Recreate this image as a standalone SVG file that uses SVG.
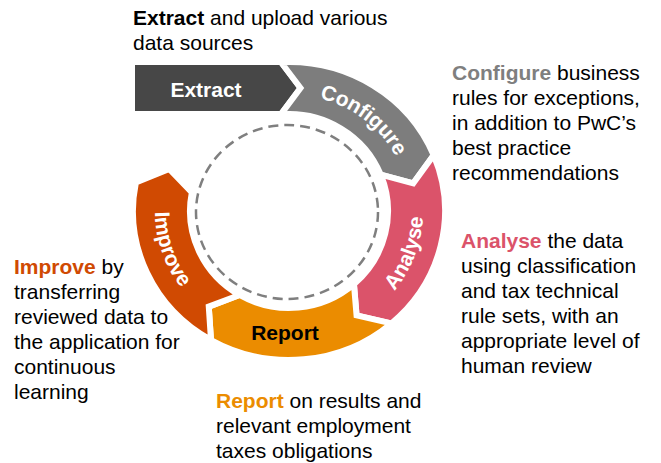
<svg xmlns="http://www.w3.org/2000/svg" width="661" height="463" viewBox="0 0 661 463">
<style>
.seg{stroke:#ffffff;stroke-width:6;stroke-linejoin:miter}
.lbl{font-family:"Liberation Sans",Arial,sans-serif;font-weight:bold;font-size:21px}
.desc{font-family:"Liberation Sans",Arial,sans-serif;font-size:21px;fill:#000000}
.b{font-weight:bold}
</style>
<defs>
<path id="pConfigure" d="M245.63,102.24 A121,116.5 0 0 1 408.51,229.22"/>
<path id="pAnalyse" d="M312.27,338.53 A134,129.5 0 0 0 391.65,127.76"/>
<path id="pImprove" d="M189.42,124.35 A134,129.5 0 0 0 261.14,337.66"/>
</defs>
<rect width="661" height="463" fill="#ffffff"/>
<g id="connectors">
<ellipse cx="287" cy="212" rx="91" ry="87" fill="none" stroke="#7f7f7f" stroke-width="2.5" stroke-dasharray="10 6"/>
</g>
<g id="extract">
<polygon class="seg" fill="#474747" points="132,62 281,62 300.5,88 281,114 132,114"/>
<text class="lbl" x="206" y="97" fill="#ffffff" text-anchor="middle">Extract</text>
</g>
<g id="configure">
<path class="seg" fill="#7d7d7d" d="M281,62.2 A156,149 0 0 1 433.64,155.18 L413.24,183.32 L380.79,174.66 A99,97 0 0 0 281,114.3 L300.5,88 Z"/>
<text class="lbl" fill="#ffffff"><textPath href="#pConfigure" startOffset="50%" text-anchor="middle">Configure</textPath></text>
</g>
<g id="analyse">
<path class="seg" fill="#db536a" d="M433.64,155.18 A156,149 0 0 1 391.35,323.45 L356.56,315.3 L353.95,284.21 A99,97 0 0 0 380.79,174.66 L413.24,183.32 Z"/>
<text class="lbl" fill="#ffffff"><textPath href="#pAnalyse" startOffset="50%" text-anchor="middle">Analyse</textPath></text>
</g>
<g id="report">
<path class="seg" fill="#eb8c00" d="M391.35,323.45 A156,149 0 0 1 211,340.03 L208.76,306.58 L239.5,295 A99,97 0 0 0 353.95,284.21 L356.56,315.3 Z"/>
<text class="lbl" x="285" y="340" fill="#000000" text-anchor="middle">Report</text>
</g>
<g id="improve">
<path class="seg" fill="#d04a02" d="M211,340.03 A156,149 0 0 1 135.87,182.57 L169.19,168.93 L191.82,192.49 A99,97 0 0 0 239.5,295 L208.76,306.58 Z"/>
<text class="lbl" fill="#ffffff"><textPath href="#pImprove" startOffset="50%" text-anchor="middle">Improve</textPath></text>
</g>
<g id="desc-extract">
<text class="desc" x="133" y="25"><tspan class="b">Extract</tspan> and upload various</text>
<text class="desc" x="133" y="50">data sources</text>
</g>
<g id="desc-configure">
<text class="desc" x="452" y="80"><tspan class="b" fill="#7f7f7f">Configure</tspan> business</text>
<text class="desc" x="452" y="105">rules for exceptions,</text>
<text class="desc" x="452" y="130">in addition to PwC’s</text>
<text class="desc" x="452" y="155">best practice</text>
<text class="desc" x="452" y="180">recommendations</text>
</g>
<g id="desc-analyse">
<text class="desc" x="461" y="248"><tspan class="b" fill="#db536a">Analyse</tspan> the data</text>
<text class="desc" x="461" y="273">using classification</text>
<text class="desc" x="461" y="298">and tax technical</text>
<text class="desc" x="461" y="323">rule sets, with an</text>
<text class="desc" x="461" y="348">appropriate level of</text>
<text class="desc" x="461" y="373">human review</text>
</g>
<g id="desc-improve">
<text class="desc" x="14" y="274"><tspan class="b" fill="#d04a02">Improve</tspan> by</text>
<text class="desc" x="14" y="299">transferring</text>
<text class="desc" x="14" y="324">reviewed data to</text>
<text class="desc" x="14" y="349">the application for</text>
<text class="desc" x="14" y="374">continuous</text>
<text class="desc" x="14" y="399">learning</text>
</g>
<g id="desc-report">
<text class="desc" x="216" y="408"><tspan class="b" fill="#eb8c00">Report</tspan> on results and</text>
<text class="desc" x="216" y="433">relevant employment</text>
<text class="desc" x="216" y="458">taxes obligations</text>
</g>
</svg>
